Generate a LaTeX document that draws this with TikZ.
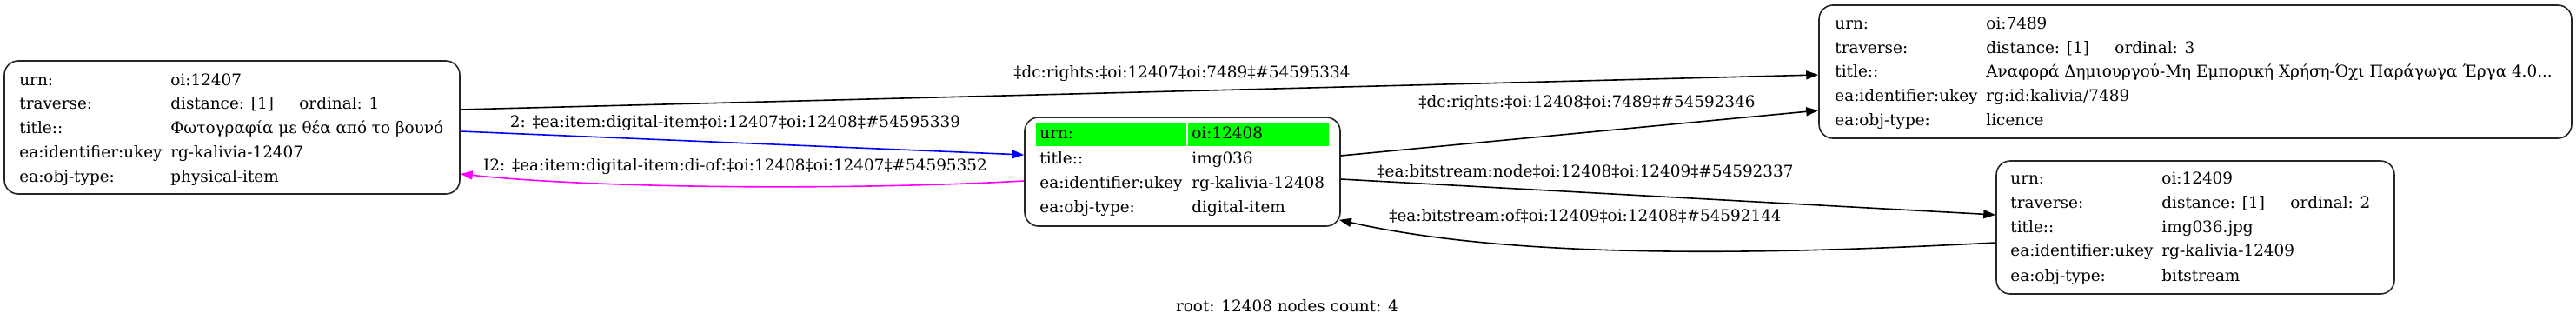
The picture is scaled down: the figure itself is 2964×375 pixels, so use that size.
\documentclass[tikz,border=0pt]{standalone}
\usepackage{fontspec}
\setmainfont{DejaVu Serif}
\usetikzlibrary{arrows.meta}
\definecolor{magfull}{RGB}{255,0,255}
\definecolor{greenfull}{RGB}{0,255,0}
\definecolor{bluefull}{RGB}{0,0,255}
\begin{document}
\begin{tikzpicture}[x=0.5pt,y=-0.5pt,
  box/.style={draw=black!85, line width=0.8pt, rounded corners=8pt, inner sep=0pt},
  txt/.style={anchor=base west, inner sep=0pt, font=\fontsize{9.2}{11}\selectfont},
  lbl/.style={anchor=base, inner sep=0pt, font=\fontsize{9.2}{11}\selectfont},
  edge/.style={line width=0.8pt, -{Triangle[length=7pt,width=5pt]}}]
\useasboundingbox (0,0) rectangle (2964,375);
% boxes
\node[box, minimum width=262pt, minimum height=76.5pt] (n1) at (267,146.5) {};
\node[box, minimum width=181.5pt, minimum height=62.5pt] (n2) at (1360.5,197.5) {};
\node[box, minimum width=433pt, minimum height=76.5pt] (n3) at (2526,82.5) {};
\node[box, minimum width=229pt, minimum height=76.5pt] (n4) at (2526,261.5) {};
% green cells
\fill[greenfull] (1192,142) rectangle (1365,168);
\fill[greenfull] (1367,142) rectangle (1529,168);
% node 1 text
\node[txt] (n1a) at (22,98) {urn:};
\node[txt] (n1b) at (22,125) {traverse:};
\node[txt] (n1c) at (22,153) {title::};
\node[txt] (n1d) at (22,181) {ea:identifier:ukey};
\node[txt] (n1e) at (22,209) {ea:obj-type:};
\node[txt] (n1f) at (196,98) {oi:12407};
\node[txt] (n1g) at (196,125) {distance: [1]};
\node[txt] (n1h) at (344,125) {ordinal: 1};
\node[txt] (n1i) at (196,153) {Φωτογραφία με θέα από το βουνό};
\node[txt] (n1j) at (196,181) {rg-kalivia-12407};
\node[txt] (n1k) at (196,209) {physical-item};
% node 2 text
\node[txt] (n2a) at (1196,159) {urn:};
\node[txt] (n2b) at (1196,188) {title::};
\node[txt] (n2c) at (1196,216) {ea:identifier:ukey};
\node[txt] (n2d) at (1196,244) {ea:obj-type:};
\node[txt] (n2e) at (1371,159) {oi:12408};
\node[txt] (n2f) at (1371,188) {img036};
\node[txt] (n2g) at (1371,216) {rg-kalivia-12408};
\node[txt] (n2h) at (1371,244) {digital-item};
% node 3 text
\node[txt] (n3a) at (2111,33) {urn:};
\node[txt] (n3b) at (2111,61) {traverse:};
\node[txt] (n3c) at (2111,88) {title::};
\node[txt] (n3d) at (2111,116) {ea:identifier:ukey};
\node[txt] (n3e) at (2111,144) {ea:obj-type:};
\node[txt] (n3f) at (2285,33) {oi:7489};
\node[txt] (n3g) at (2285,61) {distance: [1]};
\node[txt] (n3h) at (2433,61) {ordinal: 3};
\node[txt] (n3i) at (2285,88) {Αναφορά Δημιουργού-Μη Εμπορική Χρήση-Όχι Παράγωγα Έργα 4.0...};
\node[txt] (n3j) at (2285,116) {rg:id:kalivia/7489};
\node[txt] (n3k) at (2285,144) {licence};
% node 4 text
\node[txt] (n4a) at (2313,211) {urn:};
\node[txt] (n4b) at (2313,239) {traverse:};
\node[txt] (n4c) at (2313,267) {title::};
\node[txt] (n4d) at (2313,294) {ea:identifier:ukey};
\node[txt] (n4e) at (2313,323) {ea:obj-type:};
\node[txt] (n4f) at (2487,211) {oi:12409};
\node[txt] (n4g) at (2487,239) {distance: [1]};
\node[txt] (n4h) at (2635,239) {ordinal: 2};
\node[txt] (n4i) at (2487,267) {img036.jpg};
\node[txt] (n4j) at (2487,294) {rg-kalivia-12409};
\node[txt] (n4k) at (2487,323) {bitstream};
% edges
\draw[edge] ([yshift=10.25pt]n1.east) -- ([yshift=-1.75pt]n3.west);
\draw[edge, bluefull] ([yshift=-2.25pt]n1.east) -- ([yshift=9.75pt]n2.west);
\draw[edge, magfull] ([yshift=-5.25pt]n2.west) .. controls (1000,218) and (700,218) .. ([yshift=-26.75pt]n1.east);
\draw[edge] ([yshift=9.25pt]n2.east) -- ([yshift=-22.25pt]n3.west);
\draw[edge] ([yshift=-4.25pt]n2.east) -- ([yshift=7.25pt]n4.west);
\draw[edge] ([yshift=-8.75pt]n4.west) .. controls (2050,292) and (1750,300) .. ([shift={(-1pt,4pt)}]n2.south east);
% edge labels
\node[lbl] (l1) at (1360,89) {‡dc:rights:‡oi:12407‡oi:7489‡\#54595334};
\node[lbl] (l2) at (846,146) {2: ‡ea:item:digital-item‡oi:12407‡oi:12408‡\#54595339};
\node[lbl] (l3) at (846,196) {I2: ‡ea:item:digital-item:di-of:‡oi:12408‡oi:12407‡\#54595352};
\node[lbl] (l4) at (1826,123) {‡dc:rights:‡oi:12408‡oi:7489‡\#54592346};
\node[lbl] (l5) at (1824,203) {‡ea:bitstream:node‡oi:12408‡oi:12409‡\#54592337};
\node[lbl] (l6) at (1824,254) {‡ea:bitstream:of‡oi:12409‡oi:12408‡\#54592144};
\node[lbl] (root) at (1481,358) {root: 12408 nodes count: 4};
\end{tikzpicture}
\end{document}
